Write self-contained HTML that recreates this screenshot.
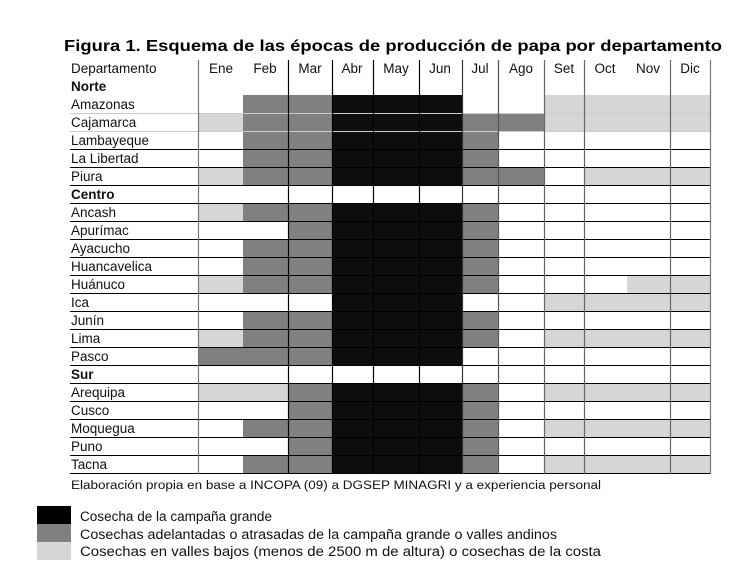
<!DOCTYPE html>
<html><head><meta charset="utf-8"><style>
html,body{margin:0;padding:0;background:#fff;}
svg{display:block;font-family:"Liberation Sans",Arial,sans-serif;}
</style></head><body>
<svg id="s" width="755" height="575" viewBox="0 0 755 575" xmlns="http://www.w3.org/2000/svg">
<g id="cells"></g>
<g id="lines"></g>
<text x="64" y="51" font-size="15.5" font-weight="bold" textLength="658" lengthAdjust="spacingAndGlyphs">Figura 1. Esquema de las épocas de producción de papa por departamento</text>
<g font-size="13.5" fill="#111">
<text x="71" y="73">Departamento</text>
<g text-anchor="middle">
<text x="221" y="73">Ene</text><text x="265" y="73">Feb</text><text x="310" y="73">Mar</text><text x="352" y="73">Abr</text><text x="396" y="73">May</text><text x="440" y="73">Jun</text><text x="480" y="73">Jul</text><text x="521" y="73">Ago</text><text x="564" y="73">Set</text><text x="605" y="73">Oct</text><text x="648" y="73">Nov</text><text x="690" y="73">Dic</text>
</g>
<text x="71" y="91" font-weight="bold">Norte</text>
<text x="71" y="109">Amazonas</text>
<text x="71" y="127">Cajamarca</text>
<text x="71" y="145">Lambayeque</text>
<text x="71" y="163">La Libertad</text>
<text x="71" y="181">Piura</text>
<text x="71" y="199" font-weight="bold">Centro</text>
<text x="71" y="217">Ancash</text>
<text x="71" y="235">Apurímac</text>
<text x="71" y="253">Ayacucho</text>
<text x="71" y="271">Huancavelica</text>
<text x="71" y="289">Huánuco</text>
<text x="71" y="307">Ica</text>
<text x="71" y="325">Junín</text>
<text x="71" y="343">Lima</text>
<text x="71" y="361">Pasco</text>
<text x="71" y="379" font-weight="bold">Sur</text>
<text x="71" y="397">Arequipa</text>
<text x="71" y="415">Cusco</text>
<text x="71" y="433">Moquegua</text>
<text x="71" y="451">Puno</text>
<text x="71" y="469">Tacna</text>
</g>
<text x="71" y="489" font-size="11.5" fill="#111" textLength="530" lengthAdjust="spacingAndGlyphs">Elaboración propia en base a INCOPA (09) a DGSEP MINAGRI y a experiencia personal</text>
<rect x="37" y="506" width="34" height="18" fill="#000"/>
<rect x="37" y="524" width="34" height="18" fill="#808080"/>
<rect x="37" y="542" width="34" height="18" fill="#d6d6d6"/>
<g font-size="13.5" fill="#111">
<text x="80" y="521" textLength="192" lengthAdjust="spacingAndGlyphs">Cosecha de la campaña grande</text>
<text x="80" y="539" textLength="477" lengthAdjust="spacingAndGlyphs">Cosechas adelantadas o atrasadas de la campaña grande o valles andinos</text>
<text x="80" y="556" textLength="521" lengthAdjust="spacingAndGlyphs">Cosechas en valles bajos (menos de 2500 m de altura) o cosechas de la costa</text>
</g>
</svg>
<script>
var xs=[198,243,288,332,373,419,462,498,544,584,627,670,710];
var rows=["","022333001111","122333221111","022333200000","022333200000","122333220111","000000000000",
"122333200000","002333200000","022333200000","022333200000","122333200011","000333001111","022333200000","122333201111","222333000000","000000000000",
"112333201111","002333200000","022333201111","002333200000","022333201111"];
var col=["#fff","#d6d6d6","#808080","#0d0d0d"];
var ns="http://www.w3.org/2000/svg",c=document.getElementById("cells"),l=document.getElementById("lines");
function el(p,t,a){var e=document.createElementNS(ns,t);for(var k in a)e.setAttribute(k,a[k]);p.appendChild(e);}
for(var r=1;r<rows.length;r++){var y=77+r*18;var s=rows[r];
for(var i=0;i<12;i++){var v=+s[i];if(v)el(c,"rect",{x:xs[i],y:y,width:xs[i+1]-xs[i],height:18,fill:col[v]});}}
for(var r=2;r<=22;r++){var y=77+r*18;el(l,"line",{x1:70,x2:710,y1:y+0.5,y2:y+0.5,stroke:(r<=3?"#ccc":"#000"),"stroke-width":1});}
el(l,"line",{x1:70,x2:710,y1:473.5,y2:473.5,stroke:"#000"});
var vl=[[198,"#777"],[288,"#000"],[332,"#000"],[373,"#000"],[419,"#000"],[462,"#333"],[498,"#555"],[544,"#666"],[584,"#666"],[670,"#666"],[710,"#777"]];
vl.forEach(function(v){el(l,"line",{x1:v[0]+0.5,x2:v[0]+0.5,y1:60,y2:474,stroke:v[1],"stroke-width":1.2});});
</script>
</body></html>
